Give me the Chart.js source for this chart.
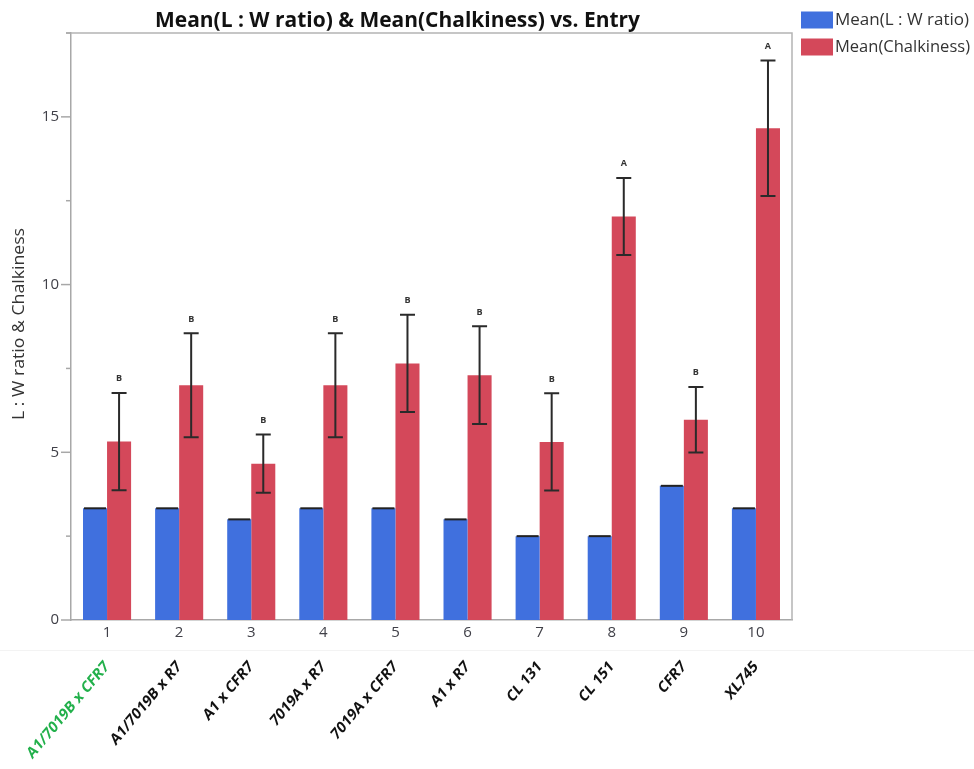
<!DOCTYPE html>
<html>
<head>
<meta charset="utf-8">
<script src="https://cdn.jsdelivr.net/npm/chart.js@4"></script>
<style>
  html, body { margin: 0; padding: 0; background: #ffffff; }
  #wrap { width: 974px; height: 769px; position: relative; }
</style>
</head>
<body>
<div id="wrap"><canvas id="chart" width="974" height="769"></canvas></div>
<script>
// Entry numbers on the axis and the cultivar / cross names written beneath them
const entries = ['1', '2', '3', '4', '5', '6', '7', '8', '9', '10'];
const entryNames = ['A1/7019B x CFR7', 'A1/7019B x R7', 'A1 x CFR7', '7019A x R7', '7019A x CFR7',
                    'A1 x R7', 'CL 131', 'CL 151', 'CFR7', 'XL745'];
const highlightedEntry = 0;

// Mean length : width ratio per entry
const lwRatio = [3.33, 3.33, 3.0, 3.33, 3.33, 3.0, 2.5, 2.5, 4.0, 3.33];
// Mean chalkiness per entry, its error half-width and the significance group
const chalkiness = [5.32, 7.0, 4.66, 7.0, 7.65, 7.3, 5.31, 12.03, 5.97, 14.66];
const chalkErr = [1.45, 1.55, 0.87, 1.55, 1.45, 1.46, 1.45, 1.15, 0.98, 2.02];
const groups = ['B', 'B', 'B', 'B', 'B', 'B', 'B', 'A', 'B', 'A'];

const seriesNames = ['Mean(L : W ratio)', 'Mean(Chalkiness)'];
const seriesColors = ['#4070de', '#d4485a'];
const titleText = 'Mean(L : W ratio) & Mean(Chalkiness) vs. Entry';
const yTitle = 'L : W ratio & Chalkiness';

const FONT = "'Open Sans', 'DejaVu Sans', sans-serif";

// draw a string so that it spans exactly `width` pixels horizontally
function fitText(ctx, text, x, y, width) {
  const w = ctx.measureText(text).width;
  ctx.save();
  ctx.translate(x, y);
  ctx.scale(width / w, 1);
  ctx.fillText(text, 0, 0);
  ctx.restore();
}

const decorations = {
  id: 'decorations',
  afterDatasetsDraw(chart) {
    const ctx = chart.ctx;
    const y = chart.scales.y;
    const blueMeta = chart.getDatasetMeta(0);
    const redMeta = chart.getDatasetMeta(1);
    ctx.save();
    // dark rule along the top of each ratio bar
    ctx.strokeStyle = '#222';
    ctx.lineWidth = 2;
    blueMeta.data.forEach((bar) => {
      ctx.beginPath();
      ctx.moveTo(bar.x - 11, bar.y);
      ctx.lineTo(bar.x + 11, bar.y);
      ctx.stroke();
    });
    // error bars and group letters on the chalkiness bars
    redMeta.data.forEach((bar, i) => {
      const yHi = y.getPixelForValue(chalkiness[i] + chalkErr[i]);
      const yLo = y.getPixelForValue(chalkiness[i] - chalkErr[i]);
      ctx.strokeStyle = '#2a2a2a';
      ctx.lineWidth = 2;
      ctx.beginPath();
      ctx.moveTo(bar.x, yHi); ctx.lineTo(bar.x, yLo);
      ctx.moveTo(bar.x - 7.5, yHi); ctx.lineTo(bar.x + 7.5, yHi);
      ctx.moveTo(bar.x - 7.5, yLo); ctx.lineTo(bar.x + 7.5, yLo);
      ctx.stroke();
      ctx.fillStyle = '#333';
      ctx.font = 'bold 9px ' + FONT;
      ctx.textAlign = 'center';
      ctx.textBaseline = 'middle';
      ctx.fillText(groups[i], bar.x, yHi - 14);
    });
    ctx.restore();
  },
  afterDraw(chart) {
    const ctx = chart.ctx;
    const a = chart.chartArea;
    const x = chart.scales.x;
    const y = chart.scales.y;
    ctx.save();

    // frame around the plot
    ctx.strokeStyle = '#b4b4b4';
    ctx.lineWidth = 1.5;
    ctx.beginPath();
    ctx.moveTo(a.left - 5, a.top);
    ctx.lineTo(a.right, a.top);
    ctx.lineTo(a.right, a.bottom);
    ctx.stroke();

    // y tick marks: long at labelled values, short in between
    ctx.strokeStyle = '#a8a8a8';
    ctx.lineWidth = 1.5;
    y.ticks.forEach((t) => {
      const py = y.getPixelForValue(t.value);
      const len = (t.value % 5 === 0) ? 10 : 5;
      ctx.beginPath();
      ctx.moveTo(a.left - len, py);
      ctx.lineTo(a.left, py);
      ctx.stroke();
    });

    // faint separator above the name labels
    ctx.strokeStyle = '#f3f3f3';
    ctx.lineWidth = 1;
    ctx.beginPath();
    ctx.moveTo(0, 650.5);
    ctx.lineTo(chart.width, 650.5);
    ctx.stroke();

    // title
    ctx.fillStyle = '#111';
    ctx.font = 'bold 21px ' + FONT;
    ctx.textBaseline = 'alphabetic';
    ctx.textAlign = 'left';
    fitText(ctx, titleText, 155, 27, 485);

    // legend
    const legendRows = [20, 47];
    const legendWidths = [134, 135];
    ctx.font = '16px ' + FONT;
    ctx.textBaseline = 'middle';
    seriesNames.forEach((name, i) => {
      ctx.fillStyle = seriesColors[i];
      ctx.fillRect(801, legendRows[i] - 8.5, 32, 17);
      ctx.fillStyle = '#333';
      fitText(ctx, name, 835, legendRows[i], legendWidths[i]);
    });

    // y axis title
    ctx.save();
    ctx.translate(19, 324);
    ctx.rotate(-Math.PI / 2);
    ctx.font = '16px ' + FONT;
    ctx.fillStyle = '#333';
    ctx.textAlign = 'left';
    ctx.textBaseline = 'middle';
    fitText(ctx, yTitle, -96, 0, 192);
    ctx.restore();

    // entry names, slanted (narrowed horizontally so they run a little steeper than 45 degrees)
    ctx.font = 'bold 16px ' + FONT;
    entryNames.forEach((name, i) => {
      const px = x.getPixelForValue(i);
      ctx.save();
      ctx.translate(px, 664);
      ctx.scale(0.84, 1);
      ctx.rotate(-Math.PI / 4);
      ctx.fillStyle = i === highlightedEntry ? '#22b04b' : '#111';
      ctx.textAlign = 'right';
      ctx.textBaseline = 'middle';
      ctx.fillText(name, 0, 0);
      ctx.restore();
    });
    ctx.restore();
  }
};

new Chart(document.getElementById('chart'), {
  type: 'bar',
  data: {
    labels: entries,
    datasets: [
      { label: seriesNames[0], data: lwRatio, backgroundColor: seriesColors[0], borderWidth: 0,
        categoryPercentage: 0.667, barPercentage: 1.0 },
      { label: seriesNames[1], data: chalkiness, backgroundColor: seriesColors[1], borderWidth: 0,
        categoryPercentage: 0.667, barPercentage: 1.0 }
    ]
  },
  options: {
    responsive: false,
    animation: false,
    layout: { padding: { left: 0, top: 33, right: 182, bottom: 0 } },
    plugins: {
      legend: { display: false },
      title: { display: false },
      tooltip: { enabled: false }
    },
    scales: {
      x: {
        grid: { display: false, drawTicks: false },
        border: { display: true, color: '#a8a8a8', width: 1.5 },
        ticks: { color: '#404048', font: { family: FONT, size: 15 }, padding: 4, maxRotation: 0 },
        afterFit(scale) { scale.height = 149; }
      },
      y: {
        min: 0,
        max: 17.5,
        grid: { display: false, drawTicks: false },
        border: { display: true, color: '#a8a8a8', width: 1.5 },
        ticks: {
          stepSize: 2.5,
          color: '#404048',
          font: { family: FONT, size: 15 },
          padding: 12,
          callback: (v) => (v % 5 === 0 ? String(v) : '')
        },
        afterFit(scale) { scale.width = 71; }
      }
    }
  },
  plugins: [decorations]
});
</script>
</body>
</html>
